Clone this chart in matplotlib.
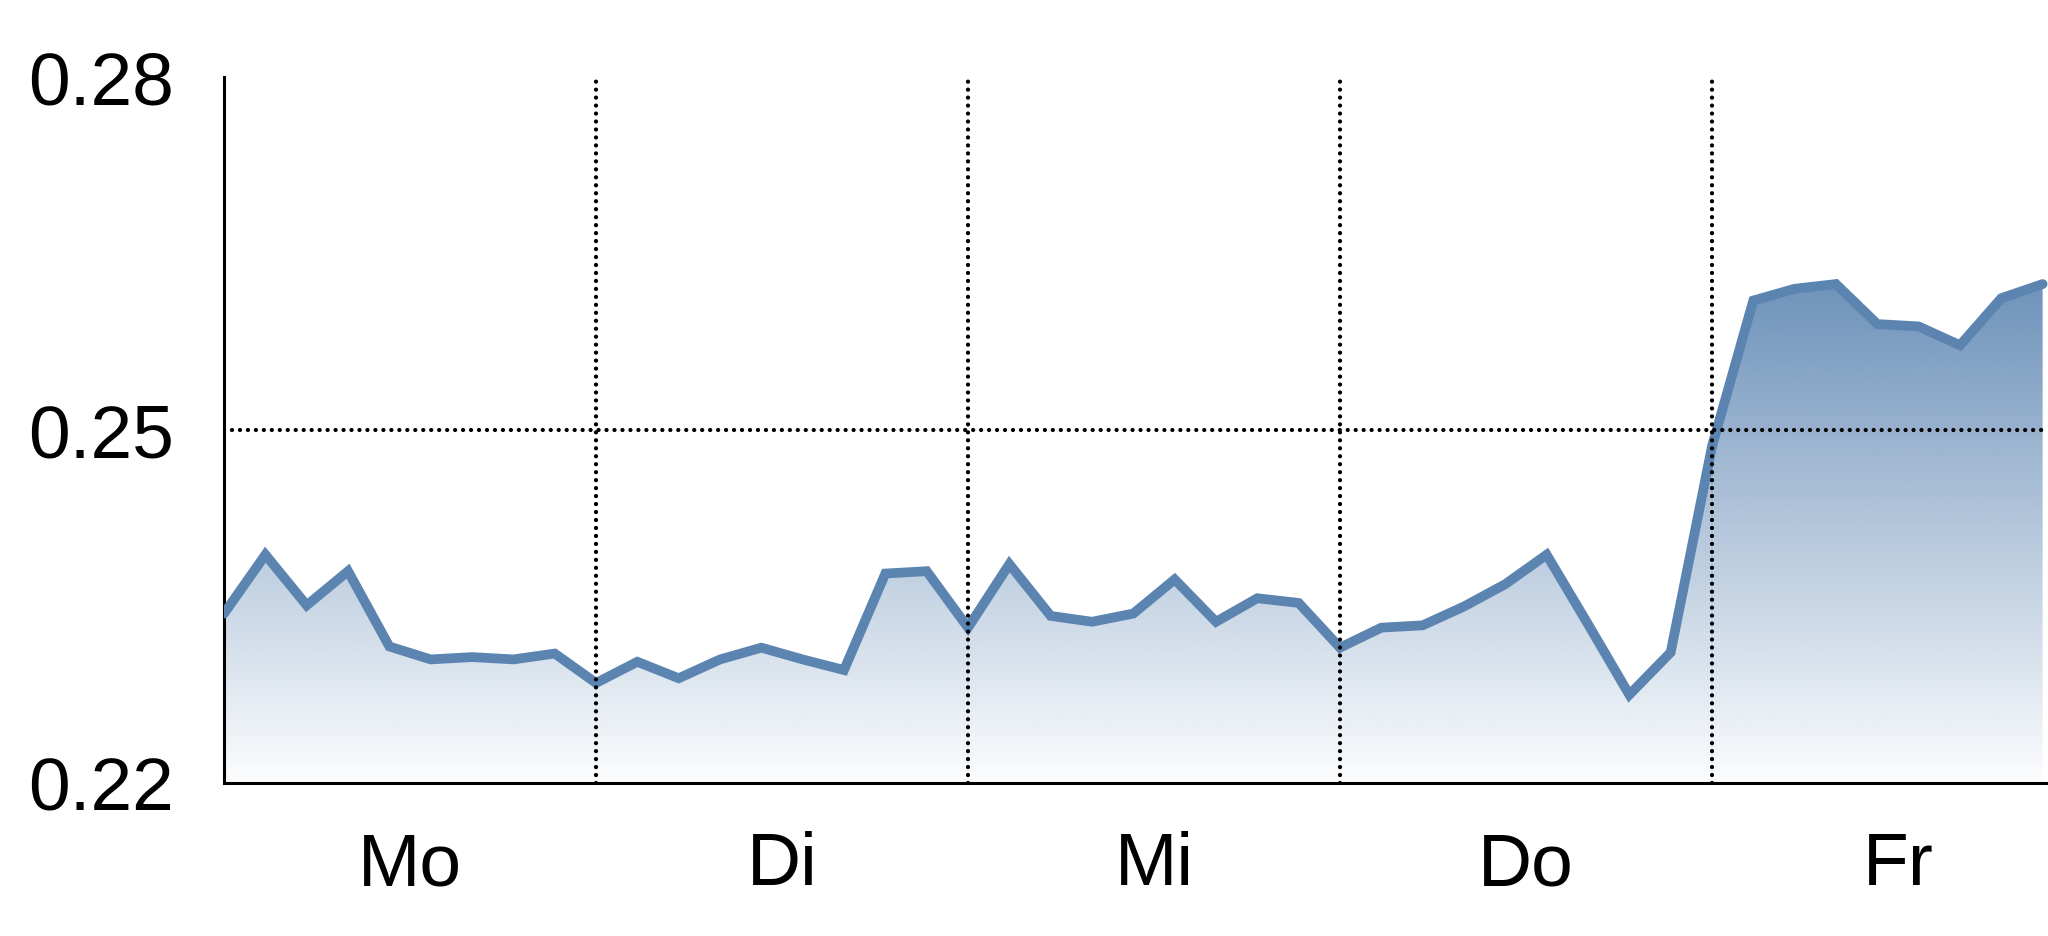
import numpy as np
import matplotlib
matplotlib.use('Agg')
import matplotlib.pyplot as plt
from matplotlib.colors import to_rgb

plt.rcParams['font.family'] = ['Liberation Sans Narrow', 'Liberation Sans', 'DejaVu Sans']

# Werte pro Messpunkt (9 Schritte pro Tag)
days = ['Mo', 'Di', 'Mi', 'Do', 'Fr']
values = [0.2344, 0.2394, 0.2351, 0.2380, 0.2316, 0.2305, 0.2307, 0.2305, 0.2310,
          0.2285, 0.2303, 0.2289, 0.2305, 0.2315, 0.2305, 0.2296, 0.2378, 0.2380,
          0.2332, 0.2386, 0.2342, 0.2337, 0.2344, 0.2373, 0.2337, 0.2357, 0.2353,
          0.2315, 0.2332, 0.2334, 0.2350, 0.2369, 0.2394, 0.2335, 0.2275, 0.2311,
          0.2486, 0.2610, 0.2620, 0.2624, 0.2590, 0.2588, 0.2572, 0.2612, 0.2624]
yticks = [0.22, 0.25, 0.28]
steps_per_day = 9

x = np.arange(len(values))
y = np.array(values)
line_color = '#5b84b1'

fig = plt.figure(figsize=(20.48, 9.37), dpi=100)
ax = fig.add_axes([0.1094, 0.1633, 0.8906, 0.7535])
ax.set_xlim(0, 44.13)
ax.set_ylim(0.22, 0.28)

# Verlauf unter der Linie
ymax = y.max()
grad = np.linspace(0, 1, 256)
rgba = np.zeros((256, 1, 4))
rgba[:, 0, :3] = to_rgb(line_color)
rgba[:, 0, 3] = 0.02 + 0.86 * grad
poly = ax.fill_between(x, 0.22, y, color='none', lw=0)
img = ax.imshow(rgba, extent=[0, x[-1], 0.22, ymax], origin='lower',
                aspect='auto', zorder=1, interpolation='bilinear')
img.set_clip_path(poly.get_paths()[0], transform=ax.transData)

ax.plot(x, y, color=line_color, lw=7, zorder=3, solid_joinstyle='miter',
        solid_capstyle='round')

# Hilfslinien (gepunktet, über der Linie)
dots = dict(color='black', lw=3.1, ls=(0, (0.001, 1.85)), dash_capstyle='round', zorder=4)
for d in range(1, len(days)):
    ax.axvline(d * steps_per_day, **dots)
ax.axhline(0.25, **dots)

for s in ['top', 'right']:
    ax.spines[s].set_visible(False)
for s in ['left', 'bottom']:
    ax.spines[s].set_linewidth(2.2)
    ax.spines[s].set_color('black')

ax.set_yticks(yticks)
ax.set_yticklabels(['0.22', '0.25', '0.28'])
ax.set_xticks([steps_per_day * (i + 0.5) for i in range(len(days))])
ax.set_xticklabels(days)
ax.tick_params(axis='y', length=0, pad=36, labelsize=54)
ax.tick_params(axis='x', length=0, pad=34, labelsize=54)

fig.savefig('out.png', dpi=100)
